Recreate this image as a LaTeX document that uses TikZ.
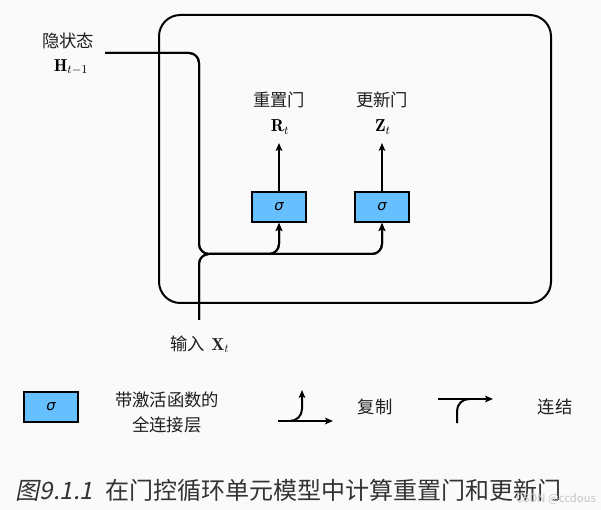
\documentclass[tikz,border=0pt]{standalone}
\usepackage{fontspec}
\usetikzlibrary{arrows.meta}
\newfontfamily\cjk{Noto Sans CJK SC}
\newfontfamily\cjkslant[FakeSlant=0.2]{Noto Sans CJK SC}
\newfontfamily\dvs{DejaVu Sans}
\definecolor{bgc}{RGB}{250,250,250}
\definecolor{gatec}{RGB}{102,191,255}
\definecolor{capc}{RGB}{51,51,51}
\definecolor{txtc}{RGB}{30,30,30}
\newcommand{\sig}{{\dvs\itshape σ}}
\begin{document}
\begin{tikzpicture}[x=0.75pt,y=-0.75pt, line width=1.5pt,
  lbl/.style={font=\cjk\fontsize{13}{18.75}\selectfont, inner sep=0, text=txtc},
  mth/.style={font=\fontsize{13}{15}\selectfont, inner sep=0},
  gate/.style={draw, fill=gatec, minimum width=40pt, minimum height=22.5pt, inner sep=0, font=\fontsize{11}{12}\selectfont},
  arr/.style={-{Stealth[length=6pt,width=5pt,inset=1.5pt]}},
  rc/.style={rounded corners=7.5pt}]
\fill[bgc] (0,0) rectangle (601,510);
\useasboundingbox (0,0) rectangle (601,510);
% main cell
\draw[rounded corners=16pt] (159,15) rectangle (551,303);
% gates
\node[gate] (g1) at (279,207) {\sig};
\node[gate] (g2) at (382,207) {\sig};
\coordinate (hs) at (105,53);
\coordinate (xin) at (199,320);
\coordinate (j) at (199,254);
% hidden state
\draw[arr, rc] (hs) -- (hs -| j) -- (j) -- (j -| g2) -- (g2.south);
\draw[arr, rc] (hs) -- (hs -| j) -- (j) -- (j -| g1) -- (g1.south);
% input
\draw[arr, rc] (xin) -- (j) -- (j -| g2) -- (g2.south);
\draw[arr, rc] (xin) -- (j) -- (j -| g1) -- (g1.south);
% outputs
\coordinate (r1) at (279,143);
\coordinate (z1) at (382,143);
\draw[arr] (g1.north) -- (r1);
\draw[arr] (g2.north) -- (z1);
% labels
\node[lbl] (rl) at (279,100) {重置门};
\node[mth] (rt) at (280,127) {$\mathbf{R}_{t}$};
\node[lbl] (zl) at (382,100) {更新门};
\node[mth] (zt) at (383,127) {$\mathbf{Z}_{t}$};
\node[lbl] (hl) at (68,41) {隐状态};
\node[mth] (ht) at (71,67) {$\mathbf{H}_{t-1}$};
\node[lbl, anchor=west] (xl) at (169,344) {输入\hspace{5pt}{\fontsize{13}{15}\selectfont$\mathbf{X}_{t}$}};
% legend
\node[gate] (lg) at (51,407) {\sig};
\node[lbl, align=center] (lt) at (167,412) {带激活函数的\\全连接层};
\coordinate (ca) at (278,421);
\coordinate (cb) at (333,421);
\coordinate (cc) at (302,390);
\draw[arr] (ca) -- (cb);
\draw[arr, rounded corners=9pt] (290,421) -- (cc |- ca) -- (cc);
\node[lbl] (cl) at (375,407) {复制};
\coordinate (ka) at (438,399);
\coordinate (kb) at (493,399);
\coordinate (kc) at (457,423);
\draw[arr] (ka) -- (kb);
\draw[rounded corners=9pt] (kc) -- (kc |- ka) -- (470,399);
\node[lbl] (kl) at (555,407) {连结};
% caption
\node[anchor=west, inner sep=0, text=capc, font=\cjk\fontsize{18}{20}\selectfont] (cap) at (15,490) {{\cjkslant 图9.1.1}\hspace{9pt}在门控循环单元模型中计算重置门和更新门};
\node[inner sep=0, text=gray!45, font=\cjk\fontsize{8.5}{10}\selectfont] (wm) at (556,499) {CSDN @ccdous};
\end{tikzpicture}
\end{document}
